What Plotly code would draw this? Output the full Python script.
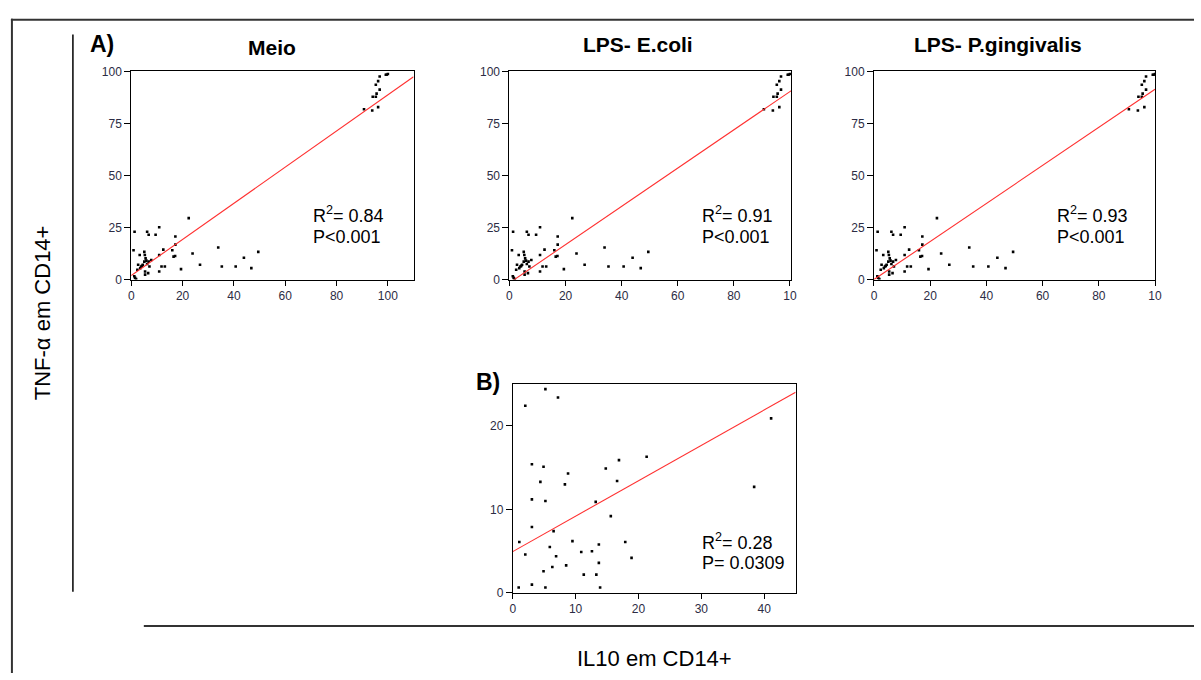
import plotly.graph_objects as go

# ---------------- data ----------------
# Panel A (same CD14+ data shown for the three conditions)
a_x = [1.3, 0.9, 6.2, 6.8, 9.5, 10.9, 22.4, 17.2, 17.2, 16.0, 16.5, 17.1, 12.5, 10.9,
       11.8, 13.1, 10.9, 19.4, 23.9, 26.8, 33.9, 35.3, 40.7, 43.9, 46.8, 49.5,
       1.2, 1.5, 1.9, 2.7, 2.4, 3.3, 3.5, 4.2, 4.5, 5.1, 5.3, 5.6, 5.1, 5.4, 5.4,
       6.6, 6.2, 7.1, 7.8, 6.8, 5.9, 3.9,
       90.7, 93.9, 96.2, 94.1, 95.3, 95.6, 95.3, 96.8, 96.2, 96.8, 99.2, 100.0, 99.5]
a_y = [23.0, 14.1, 23.0, 21.5, 21.5, 25.1, 29.5, 20.7, 16.8, 14.1, 11.0, 11.3, 14.4, 11.8,
       6.3, 6.3, 3.9, 5.0, 12.5, 7.1, 15.4, 6.3, 6.3, 10.5, 5.5, 13.3,
       1.6, 0.8, 0.3, 7.1, 4.7, 11.8, 5.5, 6.6, 7.1, 13.3, 11.8, 10.2, 8.6, 3.9, 2.4,
       3.1, 7.5, 6.3, 9.4, 8.6, 9.1, 6.3,
       81.8, 81.2, 82.8, 87.8, 87.8, 89.3, 93.6, 91.2, 95.3, 97.5, 98.4, 98.7, 98.4]

a_titles = ["Meio", "LPS- E.coli", "LPS- P.gingivalis"]
a_r2 = ["0.84", "0.91", "0.93"]
a_p = ["P<0.001", "P<0.001", "P<0.001"]
a_intercept = [1.9, -1.6, 0.0]
a_slope = [0.868, 0.919, 0.914]
a_xmax = [110, 100.5, 100]
a_xticks = [0, 20, 40, 60, 80, 100]
a_xticktext = [["0", "20", "40", "60", "80", "100"],
               ["0", "20", "40", "60", "80", "10"],
               ["0", "20", "40", "60", "80", "10"]]
a_yticks = [0, 25, 50, 75, 100]

# Panel B
b_x = [0.95, 1.05, 2.0, 2.0, 3.05, 3.05, 3.05, 3.05, 4.4, 4.9, 4.9, 5.2, 5.2, 5.2,
       5.9, 6.3, 6.5, 6.9, 7.2, 8.3, 8.5, 8.8, 9.5, 10.9, 11.3, 12.6, 13.2, 13.3,
       13.7, 13.7, 13.9, 14.8, 15.6, 16.6, 16.9, 17.9, 18.9, 21.3, 38.4, 41.1]
b_y = [0.66, 6.1, 22.4, 4.6, 15.4, 11.2, 7.9, 1.0, 13.3, 15.1, 2.6, 24.4, 11.0, 0.66,
       5.5, 3.1, 7.4, 4.4, 23.4, 13.0, 3.3, 14.3, 6.2, 4.9, 2.2, 5.0, 10.9, 2.2,
       5.8, 3.6, 0.66, 14.9, 9.2, 13.4, 15.9, 6.1, 4.2, 16.3, 12.7, 20.9]
b_r2 = "0.28"
b_p = "P= 0.0309"
b_intercept = 4.95
b_slope = 0.424
b_xmax = 45
b_xticks = [0, 10, 20, 30, 40]
b_yticks = [0, 10, 20]
b_ymax = 25

# ---------------- layout helpers ----------------
W, H = 1201, 680
def px(x):
    return x / W
def py(y):
    return 1 - y / H

TICKFONT = dict(family="Liberation Sans, Arial, sans-serif", size=12, color="#2c2c44")
TXT = "Liberation Sans, Arial, sans-serif"
MARKER = dict(size=2.6, color="black", symbol="square")

fig = go.Figure()

a_xdom = [(129.3, 414.0), (510.7, 795.0), (878.3, 1161.7)]
a_ydom = (65.7, 278.3)
a_textx = [311, 703, 1061]
a_titlex = [271, 640, 1003]
a_titley = [41, 38, 38]

annotations = []
axes = {}
for i in range(3):
    n = i + 1
    xa = "x" if n == 1 else f"x{n}"
    ya = "y" if n == 1 else f"y{n}"
    fig.add_trace(go.Scatter(x=a_x, y=a_y, mode="markers", xaxis=xa, yaxis=ya,
                             marker=MARKER, showlegend=False, hoverinfo="skip"))
    lx = [0, a_xmax[i]]
    ly = [a_intercept[i] + a_slope[i] * v for v in lx]
    fig.add_trace(go.Scatter(x=lx, y=ly, mode="lines", xaxis=xa, yaxis=ya,
                             line=dict(color="#ff3030", width=1.1),
                             showlegend=False, hoverinfo="skip"))
    axes[f"xaxis{n}"] = dict(domain=[px(a_xdom[i][0]), px(a_xdom[i][1])], anchor=ya,
                             range=[0, a_xmax[i]], tickvals=a_xticks, ticktext=a_xticktext[i],
                             showline=True, linecolor="black", linewidth=1, mirror=True,
                             ticks="outside", ticklen=5, tickcolor="black",
                             showgrid=False, zeroline=False, tickfont=TICKFONT)
    axes[f"yaxis{n}"] = dict(domain=[py(a_ydom[1]), py(a_ydom[0])], anchor=xa,
                             range=[0, 100], tickvals=a_yticks,
                             showline=True, linecolor="black", linewidth=1, mirror=True,
                             ticks="outside", ticklen=6, tickcolor="black",
                             showgrid=False, zeroline=False, tickfont=TICKFONT)
    annotations.append(dict(text=a_titles[i], x=px(a_titlex[i]), y=py(a_titley[i]),
                            xref="paper", yref="paper", showarrow=False,
                            xanchor="center", yanchor="middle",
                            font=dict(family=TXT, size=21, color="black", weight="bold")))
    annotations.append(dict(text=f"R<sup>2</sup>= {a_r2[i]}", x=px(a_textx[i]), y=py(212),
                            xref="paper", yref="paper", showarrow=False,
                            xanchor="left", yanchor="middle",
                            font=dict(family=TXT, size=18, color="black")))
    annotations.append(dict(text=a_p[i], x=px(a_textx[i]), y=py(235),
                            xref="paper", yref="paper", showarrow=False,
                            xanchor="left", yanchor="middle",
                            font=dict(family=TXT, size=18, color="black")))

# Panel B
fig.add_trace(go.Scatter(x=b_x, y=b_y, mode="markers", xaxis="x4", yaxis="y4",
                         marker=MARKER, showlegend=False, hoverinfo="skip"))
blx = [0, b_xmax]
bly = [b_intercept + b_slope * v for v in blx]
fig.add_trace(go.Scatter(x=blx, y=bly, mode="lines", xaxis="x4", yaxis="y4",
                         line=dict(color="#ff3030", width=1.1),
                         showlegend=False, hoverinfo="skip"))
axes["xaxis4"] = dict(domain=[px(514), px(799.3)], anchor="y4", range=[0, b_xmax],
                      tickvals=b_xticks, showline=True, linecolor="black", linewidth=1,
                      mirror=True, ticks="outside", ticklen=5, tickcolor="black",
                      showgrid=False, zeroline=False, tickfont=TICKFONT)
axes["yaxis4"] = dict(domain=[py(598.3), py(385)], anchor="x4", range=[0, b_ymax],
                      tickvals=b_yticks, showline=True, linecolor="black", linewidth=1,
                      mirror=True, ticks="outside", ticklen=6, tickcolor="black",
                      showgrid=False, zeroline=False, tickfont=TICKFONT)
annotations.append(dict(text=f"R<sup>2</sup>= {b_r2}", x=px(703), y=py(546),
                        xref="paper", yref="paper", showarrow=False,
                        xanchor="left", yanchor="middle",
                        font=dict(family=TXT, size=18, color="black")))
annotations.append(dict(text=b_p, x=px(703), y=py(568),
                        xref="paper", yref="paper", showarrow=False,
                        xanchor="left", yanchor="middle",
                        font=dict(family=TXT, size=18, color="black")))

# Labels
annotations.append(dict(text="A)", x=px(86), y=py(38), xref="paper", yref="paper",
                        showarrow=False, xanchor="left", yanchor="middle",
                        font=dict(family=TXT, size=23, color="black", weight="bold")))
annotations.append(dict(text="B)", x=px(475), y=py(383), xref="paper", yref="paper",
                        showarrow=False, xanchor="left", yanchor="middle",
                        font=dict(family=TXT, size=23, color="black", weight="bold")))
annotations.append(dict(text="TNF-α em CD14+", x=px(40), y=py(312), xref="paper",
                        yref="paper", showarrow=False, textangle=-90,
                        xanchor="center", yanchor="middle",
                        font=dict(family=TXT, size=22, color="black")))
annotations.append(dict(text="IL10 em CD14+", x=px(657), y=py(665), xref="paper",
                        yref="paper", showarrow=False, xanchor="center", yanchor="middle",
                        font=dict(family=TXT, size=22, color="black")))

shapes = [
    dict(type="line", xref="paper", yref="paper", x0=px(9), x1=px(9), y0=py(12), y1=0,
         line=dict(color="#333333", width=2)),
    dict(type="line", xref="paper", yref="paper", x0=px(8), x1=1, y0=py(13), y1=py(13),
         line=dict(color="#333333", width=2)),
    dict(type="line", xref="paper", yref="paper", x0=px(70.5), x1=px(70.5), y0=py(28),
         y1=py(597), line=dict(color="black", width=1.5)),
    dict(type="line", xref="paper", yref="paper", x0=px(142), x1=1, y0=py(632), y1=py(632),
         line=dict(color="#333333", width=2)),
]

fig.update_layout(width=W, height=H, autosize=False,
                  margin=dict(l=0, r=0, t=0, b=0),
                  paper_bgcolor="white", plot_bgcolor="white",
                  annotations=annotations, shapes=shapes, **axes)

fig.write_html("out.html")
